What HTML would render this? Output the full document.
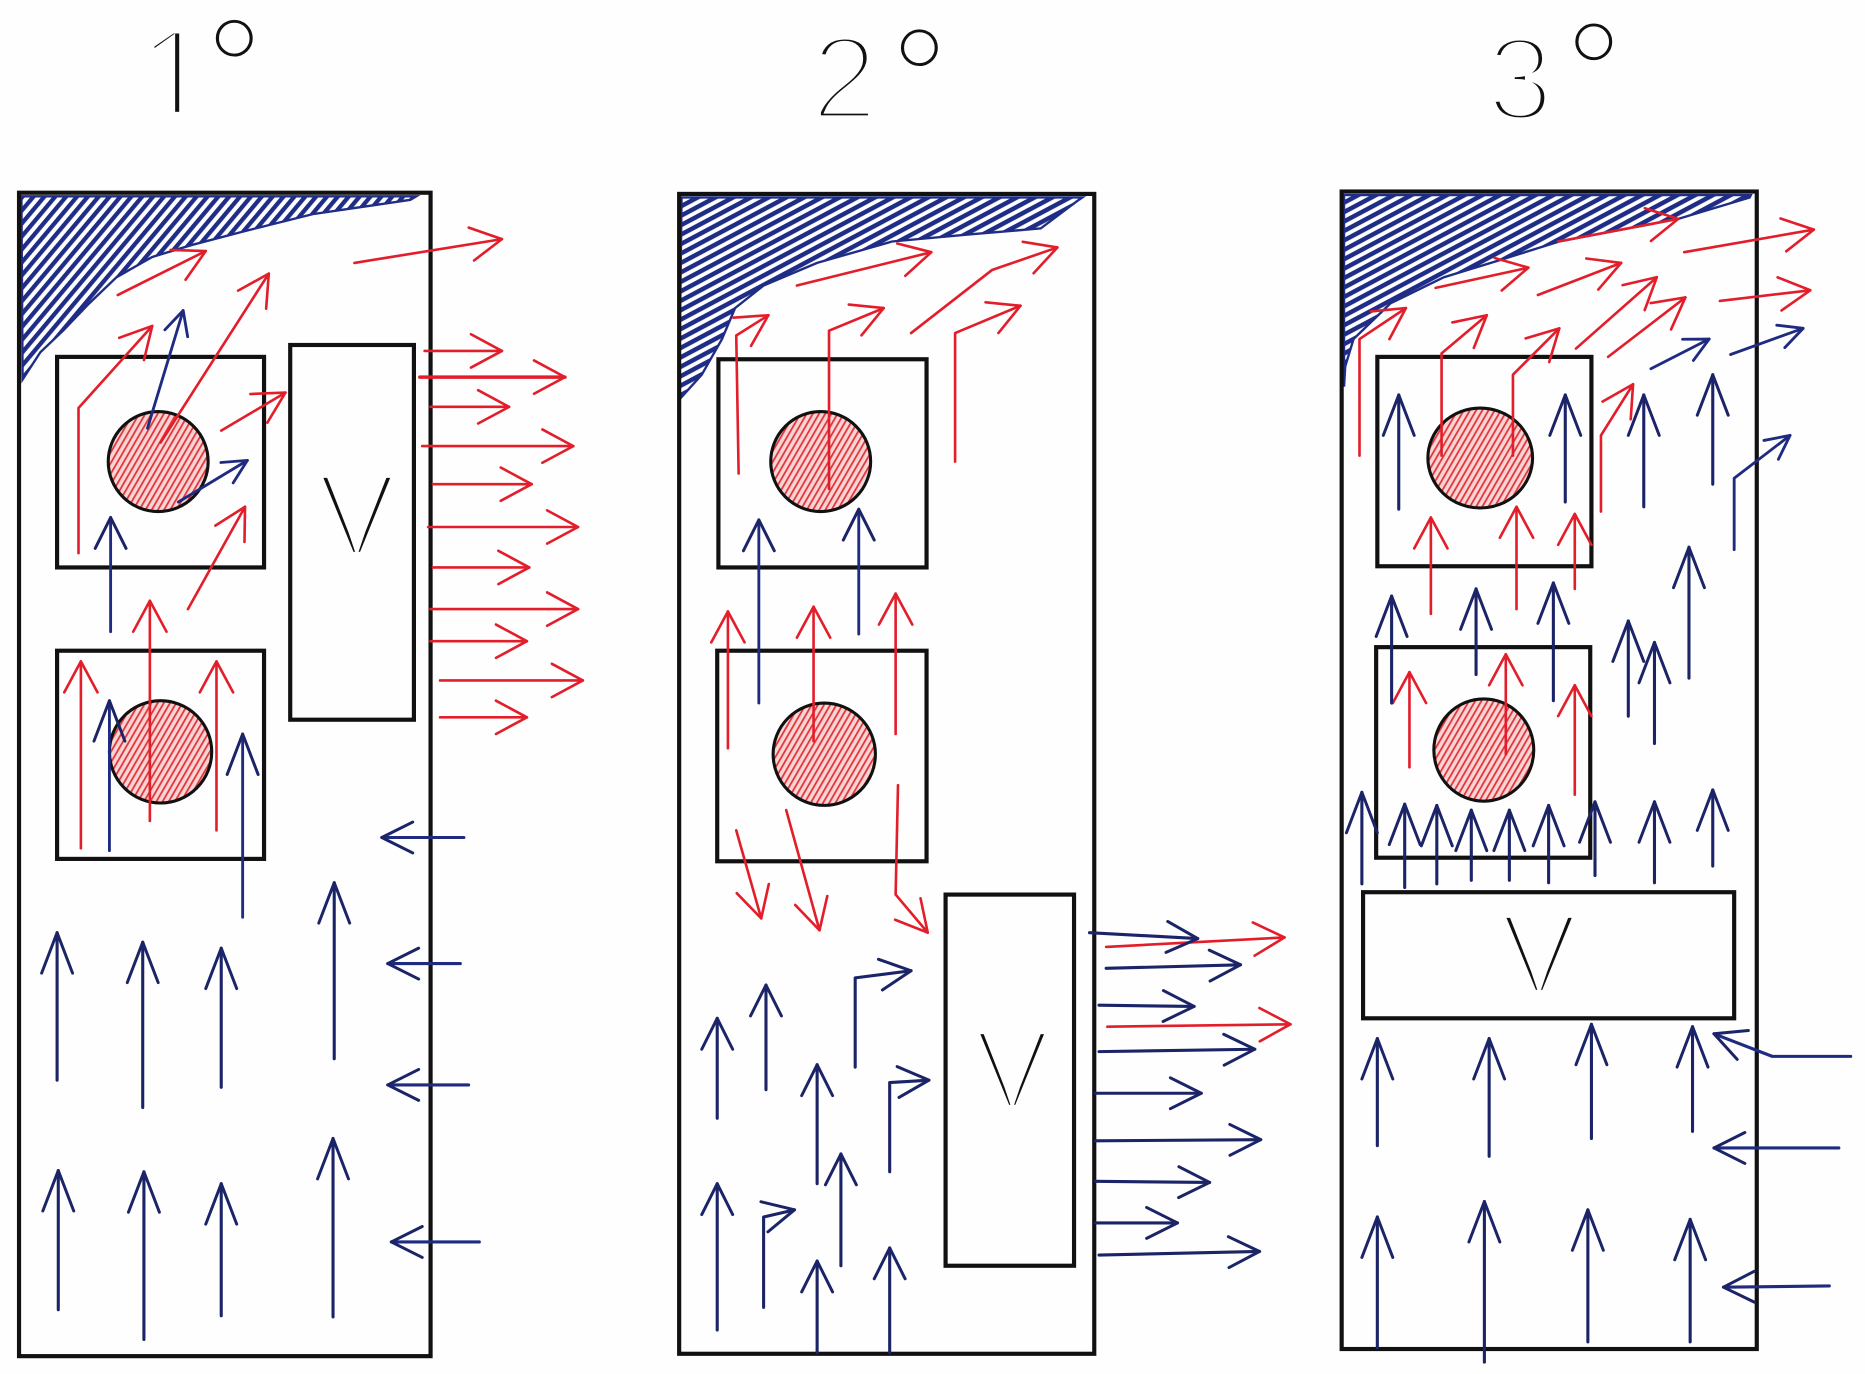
<!DOCTYPE html>
<html><head><meta charset="utf-8"><style>
html,body{margin:0;padding:0;background:#fefefe;}
svg{display:block;}
.t{font-family:"Liberation Sans","DejaVu Sans",sans-serif;}
</style></head><body>
<svg width="1865" height="1374" viewBox="0 0 1568 1155" preserveAspectRatio="none" xmlns="http://www.w3.org/2000/svg">
<defs>
<pattern id="hb1" patternUnits="userSpaceOnUse" width="7" height="7" patternTransform="rotate(-50)"><rect width="7" height="7" fill="#fff"/><rect width="7" height="3.6" fill="#1f2d86"/></pattern>
<pattern id="hb2" patternUnits="userSpaceOnUse" width="7" height="7" patternTransform="rotate(-28)"><rect width="7" height="7" fill="#fff"/><rect width="7" height="3.8" fill="#1f2d86"/></pattern>
<pattern id="hr" patternUnits="userSpaceOnUse" width="4.5" height="4.5" patternTransform="rotate(-60)"><rect width="4.5" height="4.5" fill="#f8d4d4"/><rect width="4.5" height="1.5" fill="#e2353b"/></pattern>
<marker id="rn" markerUnits="userSpaceOnUse" markerWidth="40" markerHeight="40" refX="28" refY="16" orient="auto" overflow="visible"><path d="M2,2 L28,16 L2,30" fill="none" stroke="#e31e2b" stroke-width="2.2" stroke-linecap="round" stroke-linejoin="round"/></marker>
<marker id="rs" markerUnits="userSpaceOnUse" markerWidth="30" markerHeight="30" refX="20" refY="12" orient="auto" overflow="visible"><path d="M2,2 L20,12 L2,22" fill="none" stroke="#e31e2b" stroke-width="2.2" stroke-linecap="round" stroke-linejoin="round"/></marker>
<marker id="bn" markerUnits="userSpaceOnUse" markerWidth="44" markerHeight="34" refX="36" refY="15" orient="auto" overflow="visible"><path d="M2,2 L36,15 L2,28" fill="none" stroke="#1c2468" stroke-width="2.5" stroke-linecap="round" stroke-linejoin="round"/></marker>
<marker id="bm" markerUnits="userSpaceOnUse" markerWidth="36" markerHeight="34" refX="28" refY="15" orient="auto" overflow="visible"><path d="M2,2 L28,15 L2,28" fill="none" stroke="#1c2468" stroke-width="2.5" stroke-linecap="round" stroke-linejoin="round"/></marker>
<marker id="bs" markerUnits="userSpaceOnUse" markerWidth="30" markerHeight="30" refX="22" refY="12" orient="auto" overflow="visible"><path d="M2,2 L22,12 L2,22" fill="none" stroke="#1f2b80" stroke-width="2.4" stroke-linecap="round" stroke-linejoin="round"/></marker>
</defs>

<!-- Titles -->
<g class="t" fill="#111" stroke="#fefefe" text-anchor="middle">
<text class="t" x="147" y="102" font-size="112" stroke-width="6.5">1</text>
<text class="t" x="710" y="100" font-size="100" stroke-width="6">2</text>
<text class="t" x="1278" y="101" font-size="100" stroke-width="6">3</text>
<text class="t" x="197" y="102" font-size="125" stroke-width="4">°</text>
<text class="t" x="773" y="110" font-size="125" stroke-width="4">°</text>
<text class="t" x="1340" y="105" font-size="125" stroke-width="4">°</text>
</g>
<rect x="116" y="94" width="68" height="16" fill="#fefefe"/>

<!-- ===== Panel 1 ===== -->
<path d="M18,165 L350,165 L345,168 L263,180 L203,195 L161,206 L128,216 L98,233 L75,255 L53,278 L34,296 L19,319 Z" fill="url(#hb1)" stroke="#1f2d86" stroke-width="2"/>
<g fill="none" stroke="#111" stroke-width="3.5">
<rect x="16" y="162" width="346" height="978"/>
<rect x="48" y="300" width="174" height="177"/>
<rect x="48" y="547" width="174" height="175"/>
<rect x="244" y="290" width="104" height="315"/>
</g>
<circle cx="133" cy="388" r="42" fill="url(#hr)" stroke="#111" stroke-width="2.6"/>
<circle cx="135" cy="632" r="43" fill="url(#hr)" stroke="#111" stroke-width="2.6"/>
<text class="t" x="300" y="467" font-size="99" text-anchor="middle" fill="#111" stroke="#fefefe" stroke-width="6">V</text>

<g fill="none" stroke="#e31e2b" stroke-width="2.2" stroke-linecap="round" stroke-linejoin="round" marker-end="url(#rn)">
<path d="M298,221 L422,201"/>
<path d="M99,248 L173,211"/>
<path d="M135,372 L226,230"/>
<path d="M66,465 L66,343 L128,274"/>
<path d="M186,362 L240,330"/>
<path d="M158,512 L206,426"/>
<path d="M126,690 L126,505"/>
<path d="M68,713 L68,556"/>
<path d="M182,698 L182,556"/>
<path d="M357,295 L422,295"/>
<path d="M353,317 L475,317" stroke-width="3"/>
<path d="M362,342 L428,342"/>
<path d="M355,375 L482,375"/>
<path d="M364,407 L447,407"/>
<path d="M360,443 L486,443"/>
<path d="M364,477 L445,477"/>
<path d="M362,512 L486,512"/>
<path d="M362,539 L443,539"/>
<path d="M370,572 L490,572"/>
<path d="M370,603 L443,603"/>
</g>
<g fill="none" stroke="#1f2b80" stroke-width="2.4" stroke-linecap="round" stroke-linejoin="round">
<path d="M124,360 L154,261" marker-end="url(#bs)"/>
<path d="M150,422 L208,387" marker-end="url(#bs)"/>
<path d="M93,531 L93,435" marker-end="url(#bm)"/>
<path d="M92,715 L92,589" marker-end="url(#bn)"/>
<path d="M204,771 L204,617" marker-end="url(#bn)"/>
</g>
<g fill="none" stroke="#1c2468" stroke-width="2.6" stroke-linecap="round" stroke-linejoin="round" marker-end="url(#bn)">
<path d="M48,908 L48,784"/>
<path d="M120,931 L120,792"/>
<path d="M186,914 L186,797"/>
<path d="M281,890 L281,742"/>
<path d="M49,1101 L49,984"/>
<path d="M121,1126 L121,985"/>
<path d="M186,1106 L186,995"/>
<path d="M280,1107 L280,957"/>
</g>
<g fill="none" stroke="#1f2b80" stroke-width="2.6" stroke-linecap="round" stroke-linejoin="round" marker-end="url(#bm)">
<path d="M390,704 L321,704"/>
<path d="M387,810 L326,810"/>
<path d="M394,912 L326,912"/>
<path d="M403,1044 L329,1044"/>
</g>

<!-- ===== Panel 2 ===== -->
<path d="M573,166 L910,166 L907,168 L875,192 L816,197 L750,203 L687,221 L642,240 L618,259 L607,285 L590,315 L571,336 Z" fill="url(#hb2)" stroke="#1f2d86" stroke-width="2"/>
<g fill="none" stroke="#111" stroke-width="3.5">
<rect x="571" y="163" width="349" height="975"/>
<rect x="604" y="302" width="175" height="175"/>
<rect x="603" y="547" width="176" height="177"/>
<rect x="795" y="752" width="108" height="312"/>
</g>
<circle cx="690" cy="388" r="42" fill="url(#hr)" stroke="#111" stroke-width="2.6"/>
<circle cx="693" cy="634" r="43" fill="url(#hr)" stroke="#111" stroke-width="2.6"/>
<text class="t" x="851" y="932" font-size="95" text-anchor="middle" fill="#111" stroke="#fefefe" stroke-width="6">V</text>

<g fill="none" stroke="#e31e2b" stroke-width="2.2" stroke-linecap="round" stroke-linejoin="round" marker-end="url(#rn)">
<path d="M670,240 L783,212"/>
<path d="M766,280 L834,227 L889,208"/>
<path d="M621,398 L619,282 L646,265"/>
<path d="M697,411 L697,278 L743,259"/>
<path d="M803,388 L803,280 L858,257"/>
<path d="M612,629 L612,514"/>
<path d="M684,623 L684,510"/>
<path d="M753,617 L753,499"/>
<path d="M619,698 L640,772"/>
<path d="M661,681 L689,782"/>
<path d="M755,660 L753,752 L780,784"/>
<path d="M930,796 L1080,788"/>
<path d="M931,863 L1085,861"/>
</g>
<g fill="none" stroke="#1f2b80" stroke-width="2.4" stroke-linecap="round" stroke-linejoin="round" marker-end="url(#bm)">
<path d="M638,591 L638,437"/>
<path d="M722,533 L722,428"/>
</g>
<g fill="none" stroke="#1c2468" stroke-width="2.6" stroke-linecap="round" stroke-linejoin="round" marker-end="url(#bm)">
<path d="M603,940 L603,856"/>
<path d="M644,916 L644,828"/>
<path d="M719,897 L719,822 L766,816"/>
<path d="M687,995 L687,895"/>
<path d="M748,985 L748,910 L781,908"/>
<path d="M603,1118 L603,995"/>
<path d="M642,1099 L642,1023 L668,1017"/>
<path d="M707,1064 L707,970"/>
<path d="M687,1137 L687,1060"/>
<path d="M748,1137 L748,1049"/>
<path d="M916,784 L1007,789"/>
<path d="M930,814 L1043,811"/>
<path d="M924,845 L1004,846"/>
<path d="M924,884 L1055,882"/>
<path d="M921,919 L1010,919"/>
<path d="M921,959 L1060,958"/>
<path d="M921,993 L1017,994"/>
<path d="M921,1028 L990,1028"/>
<path d="M924,1055 L1059,1052"/>
</g>

<!-- ===== Panel 3 ===== -->
<path d="M1130,164 L1472,164 L1471,166 L1411,184 L1311,203 L1263,218 L1214,233 L1169,255 L1138,285 L1131,308 L1130,325 Z" fill="url(#hb2)" stroke="#1f2d86" stroke-width="2"/>
<g fill="none" stroke="#111" stroke-width="3.5">
<rect x="1128" y="161" width="349" height="973"/>
<rect x="1158" y="300" width="180" height="176"/>
<rect x="1157" y="544" width="180" height="177"/>
<rect x="1146" y="750" width="312" height="106"/>
</g>
<ellipse cx="1244.5" cy="385" rx="44" ry="42" fill="url(#hr)" stroke="#111" stroke-width="2.6"/>
<ellipse cx="1247.5" cy="630.5" rx="42" ry="43" fill="url(#hr)" stroke="#111" stroke-width="2.6"/>
<text class="t" x="1294" y="835" font-size="97" text-anchor="middle" fill="#111" stroke="#fefefe" stroke-width="6">V</text>

<g fill="none" stroke="#e31e2b" stroke-width="2.2" stroke-linecap="round" stroke-linejoin="round" marker-end="url(#rn)">
<path d="M1310,203 L1411,184"/>
<path d="M1416,212 L1525,193"/>
<path d="M1207,242 L1285,225"/>
<path d="M1293,248 L1363,221"/>
<path d="M1325,293 L1393,233"/>
<path d="M1352,300 L1417,250"/>
<path d="M1446,253 L1522,244"/>
<path d="M1143,383 L1143,285 L1182,259"/>
<path d="M1212,383 L1212,297 L1250,265"/>
<path d="M1272,383 L1272,315 L1311,276"/>
<path d="M1346,430 L1346,366 L1373,323"/>
<path d="M1203,516 L1203,435"/>
<path d="M1275,512 L1275,426"/>
<path d="M1324,495 L1324,432"/>
<path d="M1185,645 L1185,565"/>
<path d="M1266,634 L1266,550"/>
<path d="M1324,668 L1324,576"/>
</g>
<g fill="none" stroke="#1f2b80" stroke-width="2.4" stroke-linecap="round" stroke-linejoin="round">
<path d="M1388,310 L1437,285" marker-end="url(#bs)"/>
<path d="M1455,298 L1516,276" marker-end="url(#bs)"/>
<path d="M1458,462 L1458,402 L1505,366" marker-end="url(#bs)"/>
</g>
<g fill="none" stroke="#1c2468" stroke-width="2.6" stroke-linecap="round" stroke-linejoin="round" marker-end="url(#bn)">
<path d="M1176,428 L1176,332"/>
<path d="M1316,422 L1316,332"/>
<path d="M1382,426 L1382,332"/>
<path d="M1440,407 L1440,315"/>
<path d="M1420,570 L1420,460"/>
<path d="M1170,591 L1170,501"/>
<path d="M1241,567 L1241,495"/>
<path d="M1306,589 L1306,490"/>
<path d="M1369,602 L1369,522"/>
<path d="M1391,625 L1391,540"/>
<path d="M1145,743 L1145,666"/>
<path d="M1181,746 L1181,676"/>
<path d="M1208,743 L1208,677"/>
<path d="M1237,740 L1237,681"/>
<path d="M1269,740 L1269,681"/>
<path d="M1302,742 L1302,677"/>
<path d="M1341,736 L1341,674"/>
<path d="M1391,742 L1391,674"/>
<path d="M1440,728 L1440,664"/>
<path d="M1158,963 L1158,873"/>
<path d="M1252,972 L1252,873"/>
<path d="M1338,957 L1338,861"/>
<path d="M1423,951 L1423,863"/>
<path d="M1158,1133 L1158,1023"/>
<path d="M1248,1145 L1248,1010"/>
<path d="M1335,1128 L1335,1017"/>
<path d="M1421,1128 L1421,1025"/>
</g>
<g fill="none" stroke="#1f2b80" stroke-width="2.6" stroke-linecap="round" stroke-linejoin="round" marker-end="url(#bm)">
<path d="M1556,888 L1490,888 L1441,869"/>
<path d="M1546,965 L1441,965"/>
<path d="M1538,1081 L1449,1082"/>
</g>
</svg>
</body></html>
